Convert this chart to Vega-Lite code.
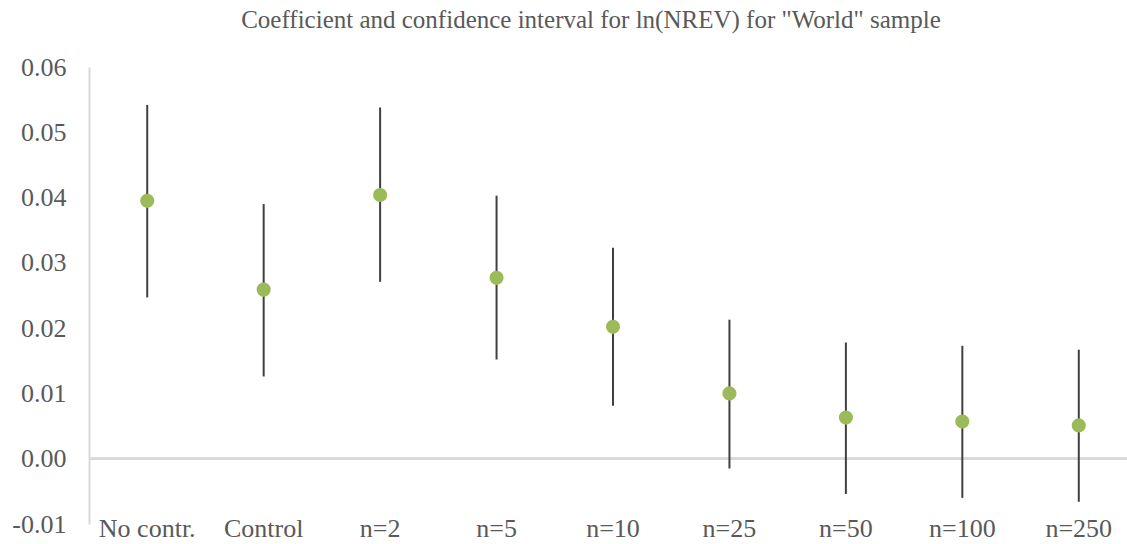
{
  "$schema": "https://vega.github.io/schema/vega-lite/v6.json",
  "autosize": "none",
  "width": 1048,
  "height": 457,
  "padding": {"left": 89, "top": 67, "right": 0, "bottom": 20},
  "background": "white",
  "config": {
    "view": {"stroke": null},
    "font": "Liberation Serif",
    "axis": {"labelFont": "Liberation Serif", "labelColor": "#595959"}
  },
  "title": {
    "text": "Coefficient and confidence interval for ln(NREV) for \"World\" sample",
    "font": "Liberation Serif",
    "fontSize": 25,
    "fontWeight": "normal",
    "color": "#595959",
    "anchor": "middle",
    "dx": -22,
    "offset": 21
  },
  "data": {
    "values": [
      {"spec": "No contr.", "coef": 0.0395, "lo": 0.0247, "hi": 0.0542},
      {"spec": "Control", "coef": 0.0259, "lo": 0.0126, "hi": 0.0390},
      {"spec": "n=2", "coef": 0.0404, "lo": 0.0271, "hi": 0.0538},
      {"spec": "n=5", "coef": 0.0277, "lo": 0.0152, "hi": 0.0403},
      {"spec": "n=10", "coef": 0.0202, "lo": 0.0081, "hi": 0.0323},
      {"spec": "n=25", "coef": 0.0100, "lo": -0.0015, "hi": 0.0213},
      {"spec": "n=50", "coef": 0.0063, "lo": -0.0054, "hi": 0.0178},
      {"spec": "n=100", "coef": 0.0057, "lo": -0.0060, "hi": 0.0173},
      {"spec": "n=250", "coef": 0.0051, "lo": -0.0066, "hi": 0.0167}
    ]
  },
  "encoding": {
    "x": {
      "field": "spec",
      "type": "nominal",
      "sort": null,
      "scale": {"paddingInner": 0, "paddingOuter": 0},
      "axis": {
        "title": null,
        "labelAngle": 0,
        "labelFont": "Liberation Serif",
        "labelFontSize": 26,
        "labelColor": "#595959",
        "domain": false,
        "ticks": false,
        "labelPadding": -9,
        "grid": false
      }
    }
  },
  "layer": [
    {
      "mark": {"type": "rule", "color": "#d9d9d9", "strokeWidth": 2},
      "encoding": {"y": {"datum": 0}, "x": null}
    },
    {
      "mark": {"type": "rule", "color": "#404040", "strokeWidth": 2},
      "encoding": {
        "y": {
          "field": "lo",
          "type": "quantitative",
          "scale": {"domain": [-0.01, 0.06], "nice": false},
          "axis": {
            "title": null,
            "values": [-0.01, 0, 0.01, 0.02, 0.03, 0.04, 0.05, 0.06],
            "labelExpr": "datum.value < 0 ? '-' + format(-datum.value, '.2f') : format(datum.value, '.2f')",
            "labelFont": "Liberation Serif",
            "labelFontSize": 26,
            "labelColor": "#595959",
            "domain": true,
            "domainColor": "#d9d9d9",
            "domainWidth": 2,
            "ticks": false,
            "grid": false,
            "labelPadding": 23
          }
        },
        "y2": {"field": "hi"}
      }
    },
    {
      "mark": {"type": "point", "filled": true, "opacity": 1, "color": "#9bbb59", "size": 200},
      "encoding": {"y": {"field": "coef", "type": "quantitative"}}
    }
  ]
}
